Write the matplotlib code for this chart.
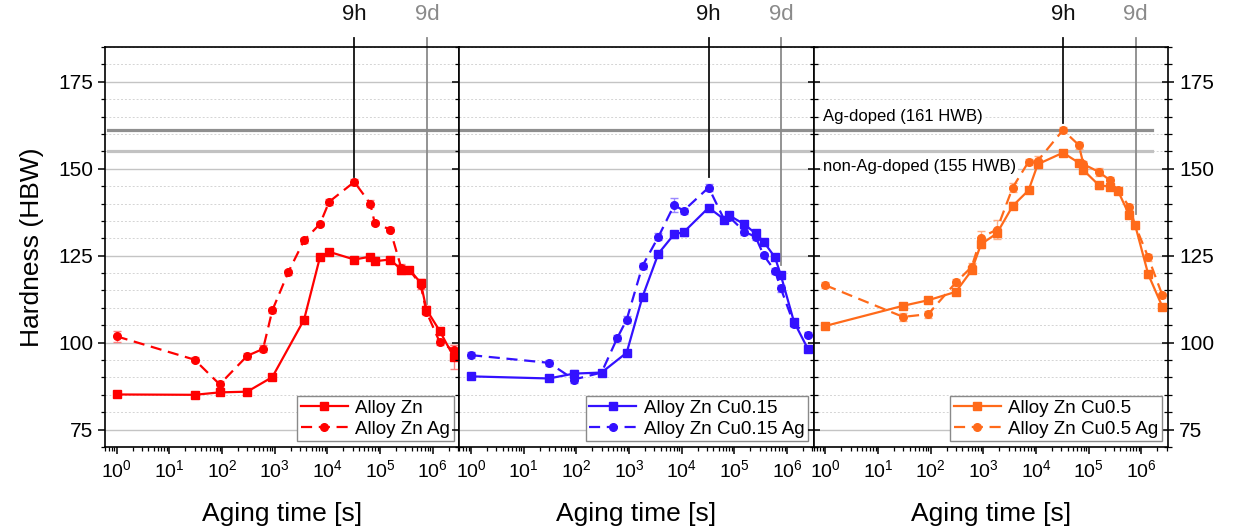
import matplotlib
matplotlib.use('Agg')
import matplotlib.pyplot as plt
from matplotlib.ticker import MultipleLocator, FixedLocator, LogFormatterSciNotation, NullFormatter
import numpy as np

plt.rcParams['font.family'] = ['Liberation Sans', 'DejaVu Sans']

# aging times [s]
t_all = [1, 30, 90, 300, 600, 900, 1800, 3600, 7200, 10800, 32400, 64800, 79200,
         155000, 252000, 360000, 590000, 760000, 1350000, 2500000]
t_no600_1800 = [1, 30, 90, 300, 900, 3600, 7200, 10800, 32400, 64800, 79200,
                155000, 252000, 360000, 590000, 760000, 1350000, 2500000]
t_no600 = [1, 30, 90, 300, 900, 1800, 3600, 7200, 10800, 32400, 64800, 79200,
           155000, 252000, 360000, 590000, 760000, 1350000, 2500000]

# panel 1 - Alloy Zn
zn_hb = [85.1, 85.0, 85.7, 85.9, 90.1, 106.6, 124.5, 126.1, 123.9, 124.7, 123.4,
         123.9, 121.0, 121.0, 117.2, 109.5, 103.4, 95.9]
zn_err = [0.5, 0.5, 0.8, 0.5, 0.6, 0.6, 0.8, 0.7, 0.8, 0.6, 0.7, 0.6, 1.2, 0.8,
          1.0, 1.0, 0.8, 3.4]
zn_ag_hb = [101.8, 95.1, 88.0, 96.2, 98.2, 109.3, 120.2, 129.4, 134.1, 140.5, 146.2,
            140.0, 134.4, 132.5, 121.5, 121.0, 116.5, 108.8, 100.2, 97.8]
zn_ag_err = [1.6, 0.8, 1.0, 0.9, 1.0, 0.8, 0.8, 0.8, 0.7, 0.9, 0.8, 0.9, 0.6, 0.7,
             1.2, 0.8, 1.0, 0.9, 0.8, 1.4]

# panel 2 - Alloy Zn Cu0.15
cu15_hb = [90.3, 89.7, 91.1, 91.4, 97.1, 113.2, 125.6, 131.2, 131.7, 138.8, 135.4,
           136.6, 134.0, 131.4, 129.0, 124.5, 119.4, 106.0, 98.1]
cu15_err = [0.8, 0.6, 1.0, 0.8, 0.7, 0.8, 0.8, 1.0, 0.9, 0.8, 0.8, 0.8, 0.8, 1.0,
            0.9, 0.8, 0.9, 0.9, 0.8]
cu15_ag_hb = [96.4, 94.2, 89.4, 91.4, 101.4, 106.6, 122.1, 130.4, 139.6, 137.9, 144.6,
              135.2, 136.2, 131.9, 130.4, 125.1, 120.6, 115.6, 105.3, 102.3]
cu15_ag_err = [0.9, 0.8, 1.1, 0.8, 0.8, 1.0, 0.9, 1.0, 2.0, 0.8, 0.9, 0.8, 0.8, 0.9,
               0.8, 0.8, 0.8, 0.9, 0.8, 0.8]

# panel 3 - Alloy Zn Cu0.5
cu5_hb = [104.8, 110.6, 112.2, 114.6, 120.8, 128.3, 131.4, 139.3, 143.8, 151.3, 154.6,
          151.7, 149.6, 145.3, 144.8, 143.6, 136.6, 133.8, 119.6, 110.3]
cu5_err = [0.6, 0.6, 0.7, 0.7, 0.9, 1.0, 1.0, 1.0, 0.8, 0.9, 0.8, 0.8, 0.8, 1.0,
           0.9, 0.8, 0.9, 0.9, 0.9, 0.7]
cu5_ag_hb = [116.5, 107.4, 108.2, 117.3, 121.8, 130.2, 132.5, 144.6, 152.0, 152.3, 161.1,
             156.8, 151.3, 149.1, 146.7, 143.8, 139.0, 133.8, 124.5, 113.6]
cu5_ag_err = [0.8, 1.2, 1.0, 0.9, 1.0, 2.0, 2.7, 1.2, 0.8, 1.5, 0.9, 1.0, 0.9, 1.2,
              0.8, 0.8, 1.0, 1.0, 0.9, 0.8]

panels = [
    ('Alloy Zn', t_no600_1800, zn_hb, zn_err, 'Alloy Zn Ag', t_all, zn_ag_hb, zn_ag_err, '#ff0000', '#ff8080'),
    ('Alloy Zn Cu0.15', t_no600, cu15_hb, cu15_err, 'Alloy Zn Cu0.15 Ag', t_all, cu15_ag_hb, cu15_ag_err, '#3311ff', '#9a88ff'),
    ('Alloy Zn Cu0.5', t_all, cu5_hb, cu5_err, 'Alloy Zn Cu0.5 Ag', t_all, cu5_ag_hb, cu5_ag_err, '#ff6a1a', '#ffae85'),
]

decades = [1e0, 1e1, 1e2, 1e3, 1e4, 1e5, 1e6]

# ends of the 9h / 9d marker lines in each panel
t_9h, t_9d = 32400, 777600
end_9h = [147.6, 147.6, 163.0]
end_9d = [111.2, 122.3, 137.1]
ref_ag, ref_nonag = 161, 155

fig, axes = plt.subplots(1, 3, figsize=(12.33, 5.32), dpi=100, sharey=True)
fig.subplots_adjust(left=0.0852, right=0.9473, top=0.9117, bottom=0.1598, wspace=0)

minors = [d * k for d in [0.1] + decades for k in range(2, 10)]

for i, ax in enumerate(axes):
    lab1, t1, y1, e1, lab2, t2, y2, e2, col, ecol = panels[i]
    ax.set_xscale('log')
    ax.set_xlim(0.6, 3.2e6)
    ax.set_ylim(70, 185)

    ax.yaxis.set_major_locator(MultipleLocator(25))
    ax.yaxis.set_minor_locator(MultipleLocator(5))
    ax.xaxis.set_major_locator(FixedLocator(decades))
    ax.xaxis.set_major_formatter(LogFormatterSciNotation())
    ax.xaxis.set_minor_locator(FixedLocator([m for m in minors if 0.6 <= m <= 3.2e6]))
    ax.xaxis.set_minor_formatter(NullFormatter())

    ax.grid(which='major', axis='y', color='#c4c4c4', lw=1.0, zorder=0)
    ax.grid(which='minor', axis='y', color='#d4d4d4', ls=(0, (2, 2)), lw=0.7, zorder=0)
    ax.set_axisbelow(True)

    xmin = 0.008 if i == 0 else 0
    xmax = 0.955 if i == 2 else 1
    ax.axhline(ref_ag, xmin=xmin, xmax=xmax, color='#8f8f8f', lw=2.3, zorder=1)
    ax.axhline(ref_nonag, xmin=xmin, xmax=xmax, color='#c2c2c2', lw=2.3, zorder=1)

    eb1 = ax.errorbar(t1, y1, yerr=e1, fmt='-s', color=col, ecolor=ecol, ms=5.5, lw=1.6,
                      elinewidth=1, capsize=3, capthick=1, zorder=3)
    eb2 = ax.errorbar(t2, y2, yerr=e2, fmt='--o', color=col, ecolor=ecol, ms=5.5, lw=1.6,
                      elinewidth=1, capsize=3, capthick=1, dashes=(5, 3), zorder=3)

    # 9h / 9d markers
    ax.plot([t_9h, t_9h], [end_9h[i], 187.6], color='#111111', lw=1.3, clip_on=False, zorder=2)
    ax.plot([t_9d, t_9d], [end_9d[i], 187.6], color='#8a8a8a', lw=1.3, clip_on=False, zorder=2)
    ax.text(t_9h, 194.3, '9h', ha='center', va='center', fontsize=16, color='#111111')
    ax.text(t_9d, 194.3, '9d', ha='center', va='center', fontsize=16, color='#8a8a8a')

    leg = ax.legend([eb1[0], eb2[0]], [lab1, lab2], loc='lower right', fontsize=13.5,
                    fancybox=False, framealpha=1, edgecolor='#8a8a8a', borderaxespad=0.3,
                    handlelength=2.5, handletextpad=0.4, labelspacing=0.2, borderpad=0.2)
    leg.get_frame().set_linewidth(1.0)

    for s in ax.spines.values():
        s.set_linewidth(1.2)
        s.set_color('black')

    ax.set_xlabel('Aging time [s]', fontsize=19, labelpad=15)
    ax.tick_params(axis='y', which='major', labelsize=15)
    ax.tick_params(axis='x', which='major', labelsize=14)
    ax.tick_params(axis='both', which='major', length=5, width=1.1, direction='out')
    ax.tick_params(axis='both', which='minor', length=3, width=0.9, direction='out')
    ax.tick_params(axis='y', which='both', left=True, right=True)
    ax.tick_params(axis='x', which='both', top=False)

axes[0].set_ylabel('Hardness (HBW)', fontsize=19, labelpad=10)
axes[1].tick_params(axis='y', labelleft=False)
axes[2].tick_params(axis='y', which='both', labelleft=False, labelright=True, direction='inout')
axes[2].tick_params(axis='y', which='major', length=9)
axes[2].tick_params(axis='y', which='minor', length=6)

axes[2].text(0.027, 165, 'Ag-doped (161 HWB)', transform=axes[2].get_yaxis_transform(),
             fontsize=12, va='center', ha='left',
             bbox=dict(facecolor='white', edgecolor='none', pad=1), zorder=2)
axes[2].text(0.027, 150.7, 'non-Ag-doped (155 HWB)', transform=axes[2].get_yaxis_transform(),
             fontsize=12, va='center', ha='left',
             bbox=dict(facecolor='white', edgecolor='none', pad=1), zorder=2)

fig.savefig('out.png', dpi=100)
